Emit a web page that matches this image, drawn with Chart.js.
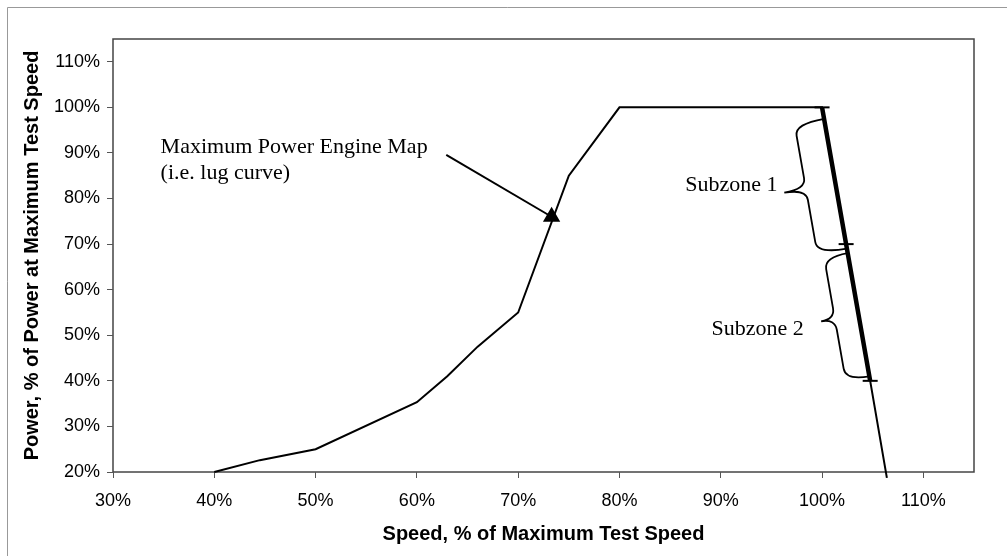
<!DOCTYPE html>
<html>
<head>
<meta charset="utf-8">
<script src="https://cdn.jsdelivr.net/npm/chart.js@4/dist/chart.umd.min.js"></script>
<style>
  html, body { margin: 0; padding: 0; background: #fff; }
  canvas { display: block; }
</style>
</head>
<body>
<canvas id="lugChart" width="1007" height="556"></canvas>
<script>
// lug curve (maximum power engine map), speed and power in %
const lugSpeed = [40, 44.5, 50, 60, 63, 66, 70, 75, 80, 100, 104.75, 106.4];
const lugPower = [20, 22.6, 25, 35.3, 41, 47.5, 55, 85, 100, 100, 40, 18.7];

// the thick part of the droop line and its subzone hash marks
const zoneSpeed = [100, 102.375, 104.75];
const zonePower = [100, 70, 40];

// arrow from the label to the curve
const arrowSpeed = [62.9, 73.3];
const arrowPower = [89.6, 76];

// braces: start/end power of each subzone
const braceTop = [97.5, 68];
const braceBottom = [69, 41];

// text notes
const noteText = ["Maximum Power Engine Map", "(i.e. lug curve)", "Subzone 1", "Subzone 2"];
const noteSpeed = [34.7, 34.7, 95.6, 98.2];
const notePower = [91.3, 85.6, 82.9, 51.4];
const noteAlign = ["left", "left", "right", "right"];

// tick values
const xTicks = [30, 40, 50, 60, 70, 80, 90, 100, 110];
const yTicks = [20, 30, 40, 50, 60, 70, 80, 90, 100, 110];

const toXY = (xs, ys) => xs.map((x, i) => ({ x: x, y: ys[i] }));

// speed on the droop line for a given power
function droopSpeed(p) {
  return zoneSpeed[0] + (zonePower[0] - p) * (zoneSpeed[2] - zoneSpeed[0]) / (zonePower[0] - zonePower[2]);
}

// curly brace from p1 to p2, body at offset b, tip at offset w (to the left)
function brace(ctx, x1, y1, x2, y2, b, w) {
  const len = Math.hypot(x2 - x1, y2 - y1);
  const ux = (x2 - x1) / len, uy = (y2 - y1) / len;
  const nx = -uy, ny = ux;
  const P = (t, s) => [x1 + t * ux + s * nx, y1 + t * uy + s * ny];
  const r = 12, r2 = 11, m = len / 2;
  const half = (sign) => {
    const T = (t) => (sign > 0 ? t : len - t);
    let p = P(T(0), 0);
    ctx.moveTo(p[0], p[1]);
    let c = P(T(0), b); p = P(T(r), b);
    ctx.quadraticCurveTo(c[0], c[1], p[0], p[1]);
    p = P(T(m - r2), b);
    ctx.lineTo(p[0], p[1]);
    c = P(T(m), b); p = P(T(m), w);
    ctx.quadraticCurveTo(c[0], c[1], p[0], p[1]);
  };
  ctx.beginPath();
  half(1);
  half(-1);
  ctx.stroke();
}

const braceBody = [30, 24];
const braceTip = [52, 38];

const extras = {
  id: "extras",
  beforeDraw(chart) {
    const ctx = chart.ctx;
    ctx.save();
    ctx.fillStyle = "#fff";
    ctx.fillRect(0, 0, chart.width, chart.height);
    // outer frame (top and left only)
    ctx.strokeStyle = "#999";
    ctx.lineWidth = 1;
    ctx.beginPath();
    ctx.moveTo(7.5, chart.height);
    ctx.lineTo(7.5, 7.5);
    ctx.lineTo(chart.width, 7.5);
    ctx.stroke();
    // plot box
    const a = chart.chartArea;
    ctx.strokeStyle = "#444";
    ctx.lineWidth = 1.5;
    ctx.strokeRect(a.left, a.top, a.right - a.left, a.bottom - a.top);
    ctx.restore();
  },
  afterDraw(chart) {
    const ctx = chart.ctx;
    const xs = chart.scales.x, ys = chart.scales.y;
    ctx.save();
    ctx.fillStyle = "#000";
    ctx.font = '22px "Liberation Serif", "Times New Roman", serif';
    ctx.textBaseline = "middle";
    noteText.forEach((t, i) => {
      ctx.textAlign = noteAlign[i];
      ctx.fillText(t, xs.getPixelForValue(noteSpeed[i]), ys.getPixelForValue(notePower[i]));
    });
    ctx.strokeStyle = "#000";
    ctx.lineWidth = 1.8;
    ctx.lineJoin = "round";
    braceTop.forEach((p, i) => {
      const pb = braceBottom[i];
      brace(ctx,
        xs.getPixelForValue(droopSpeed(p)), ys.getPixelForValue(p),
        xs.getPixelForValue(droopSpeed(pb)), ys.getPixelForValue(pb),
        braceBody[i], braceTip[i]);
    });
    ctx.restore();
  }
};

const ctx = document.getElementById("lugChart").getContext("2d");
new Chart(ctx, {
  type: "scatter",
  data: {
    datasets: [
      {
        data: toXY(lugSpeed, lugPower),
        showLine: true,
        borderColor: "#000",
        borderWidth: 2,
        pointRadius: 0,
        tension: 0,
        clip: false,
      },
      {
        data: toXY(zoneSpeed, zonePower),
        showLine: true,
        borderColor: "#000",
        borderWidth: 4.5,
        pointStyle: "line",
        pointRadius: 7.5,
        pointBorderWidth: 2,
        pointBorderColor: "#000",
        tension: 0,
        clip: false,
      },
      {
        data: toXY(arrowSpeed, arrowPower),
        showLine: true,
        borderColor: "#000",
        borderWidth: 2,
        pointStyle: "triangle",
        pointRadius: [0, 8],
        pointBackgroundColor: "#000",
        pointBorderColor: "#000",
        tension: 0,
      },
    ],
  },
  options: {
    responsive: false,
    animation: false,
    devicePixelRatio: 1,
    layout: { padding: { top: 39, right: 33, left: 0, bottom: 0 } },
    plugins: { legend: { display: false }, tooltip: { enabled: false } },
    scales: {
      x: {
        type: "linear",
        min: 30,
        max: 115,
        afterFit: (s) => { s.height = 84; },
        afterBuildTicks: (s) => { s.ticks = xTicks.map((v) => ({ value: v })); },
        border: { display: false },
        grid: { drawOnChartArea: false, drawTicks: true, tickLength: 6, tickColor: "#555", color: "#555" },
        ticks: {
          color: "#000",
          padding: 12,
          font: { family: "'Liberation Sans', Arial, sans-serif", size: 18 },
          callback: (v) => v + "%",
        },
        title: {
          display: true,
          text: "Speed, % of Maximum Test Speed",
          color: "#000",
          font: { family: "'Liberation Sans', Arial, sans-serif", size: 20, weight: "bold" },
          padding: { top: 0, bottom: 10 },
        },
      },
      y: {
        type: "linear",
        min: 20,
        max: 115,
        afterFit: (s) => { s.width = 113; },
        afterBuildTicks: (s) => { s.ticks = yTicks.map((v) => ({ value: v })); },
        border: { display: false },
        grid: { drawOnChartArea: false, drawTicks: true, tickLength: 6, tickColor: "#555", color: "#555" },
        ticks: {
          color: "#000",
          padding: 7,
          font: { family: "'Liberation Sans', Arial, sans-serif", size: 18 },
          callback: (v) => v + "%",
        },
        title: {
          display: true,
          text: "Power, % of Power at Maximum Test Speed",
          color: "#000",
          font: { family: "'Liberation Sans', Arial, sans-serif", size: 20, weight: "bold" },
          padding: { top: 20, bottom: 0 },
        },
      },
    },
  },
  plugins: [extras],
});
</script>
</body>
</html>
